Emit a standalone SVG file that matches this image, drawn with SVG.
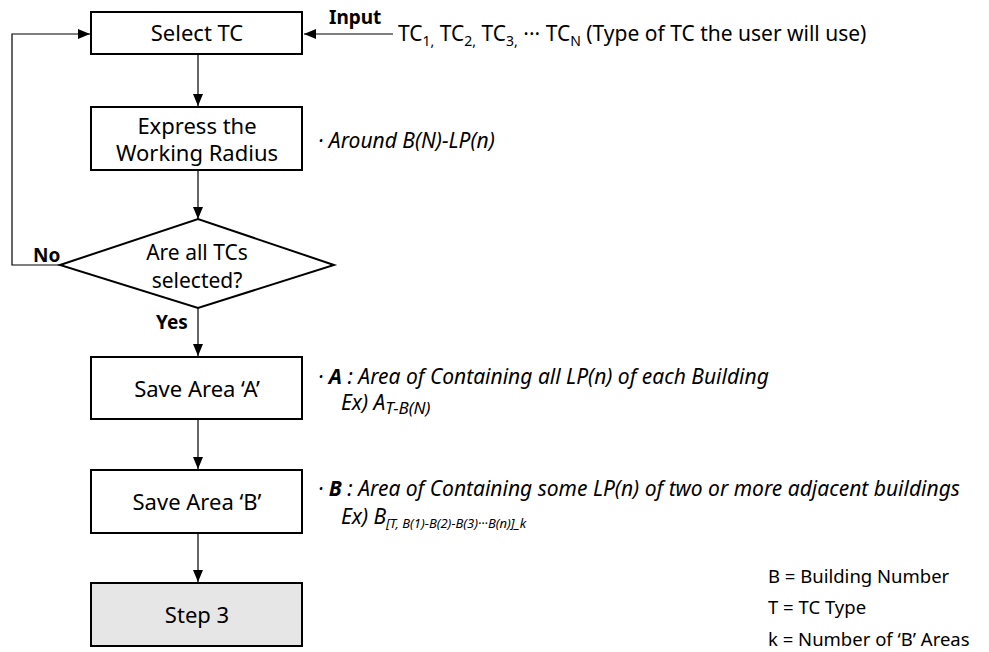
<svg xmlns="http://www.w3.org/2000/svg" width="989" height="652" viewBox="0 0 989 652">
  <defs>
    <marker id="arrow" viewBox="0 0 12 10" refX="12" refY="5" markerWidth="12" markerHeight="10" markerUnits="userSpaceOnUse" orient="auto">
      <path d="M0,0 L12,5 L0,10 Z" fill="#000"/>
    </marker>
    <style>
      .box { fill: #fff; stroke: #000; stroke-width: 2; }
      .grey { fill: #e6e6e6; }
      .edge { fill: none; stroke: #000; stroke-width: 1.2; marker-end: url(#arrow); }
      text { font-family: "Noto Sans", "Open Sans", sans-serif; fill: #000; }
      .lbl { font-size: 22px; text-anchor: middle; }
      .dia { font-size: 21px; text-anchor: middle; }
      .note { font-size: 21px; font-style: italic; }
      .bold { font-weight: bold; }
      .leg { font-size: 18.5px; }
    </style>
  </defs>

  <!-- connectors and their labels -->
  <g id="connectors">
    <path class="edge" d="M198,55 L198,106"/>
    <path class="edge" d="M198,171 L198,219"/>
    <path class="edge" d="M198,308 L198,356"/>
    <path class="edge" d="M198,420 L198,469"/>
    <path class="edge" d="M198,534 L198,582"/>
    <path class="edge" d="M60,265 L12,265 L12,34 L90,34"/>
    <path class="edge" d="M393,34 L304,34"/>
    <text class="bold" x="33" y="262" font-size="19">No</text>
    <text class="bold" x="156" y="329" font-size="19">Yes</text>
    <text class="bold" x="329" y="24" font-size="19">Input</text>
  </g>

  <!-- input list -->
  <g id="input">
    <text x="398" y="41" font-size="21">TC<tspan font-size="14" dy="5">1,</tspan><tspan dy="-5"> TC</tspan><tspan font-size="14" dy="5">2,</tspan><tspan dy="-5"> TC</tspan><tspan font-size="14" dy="5">3,</tspan><tspan dy="-5"> ··· TC</tspan><tspan font-size="14" dy="5">N</tspan><tspan dy="-5"> (Type of TC the user will use)</tspan></text>
  </g>

  <g id="select-tc">
    <rect class="box" x="91" y="12" width="211" height="42"/>
    <text class="lbl" x="197" y="41">Select TC</text>
  </g>

  <g id="express-radius">
    <rect class="box" x="91" y="107" width="211" height="63"/>
    <text class="lbl" x="197" y="134">Express the</text>
    <text class="lbl" x="197" y="161">Working Radius</text>
    <text class="note" x="318" y="148">· Around B(N)-LP(n)</text>
  </g>

  <g id="all-selected">
    <polygon class="box" points="60,265 198,219 334,265 198,308"/>
    <text class="dia" x="197" y="260">Are all TCs</text>
    <text class="dia" x="197" y="288">selected?</text>
  </g>

  <g id="save-a">
    <rect class="box" x="91" y="357" width="211" height="62"/>
    <text class="lbl" x="197" y="397">Save Area ‘A’</text>
    <text class="note" x="318" y="384">· <tspan class="bold">A</tspan> : Area of Containing all LP(n) of each Building</text>
    <text class="note" x="341" y="410">Ex) A<tspan font-size="17" dy="4">T-B(N)</tspan></text>
  </g>

  <g id="save-b">
    <rect class="box" x="91" y="470" width="211" height="63"/>
    <text class="lbl" x="197" y="510">Save Area ‘B’</text>
    <text class="note" x="318" y="496">· <tspan class="bold">B</tspan> : Area of Containing some LP(n) of two or more adjacent buildings</text>
    <text class="note" x="341" y="524">Ex) B<tspan font-size="13" dy="4">[T, B(1)-B(2)-B(3)···B(n)]_k</tspan></text>
  </g>

  <g id="step-3">
    <rect class="box grey" x="91" y="583" width="211" height="63"/>
    <text class="lbl" x="197" y="623">Step 3</text>
  </g>

  <g id="legend">
    <text class="leg" x="768" y="583">B = Building Number</text>
    <text class="leg" x="768" y="614">T = TC Type</text>
    <text class="leg" x="768" y="646">k = Number of ‘B’ Areas</text>
  </g>
</svg>
